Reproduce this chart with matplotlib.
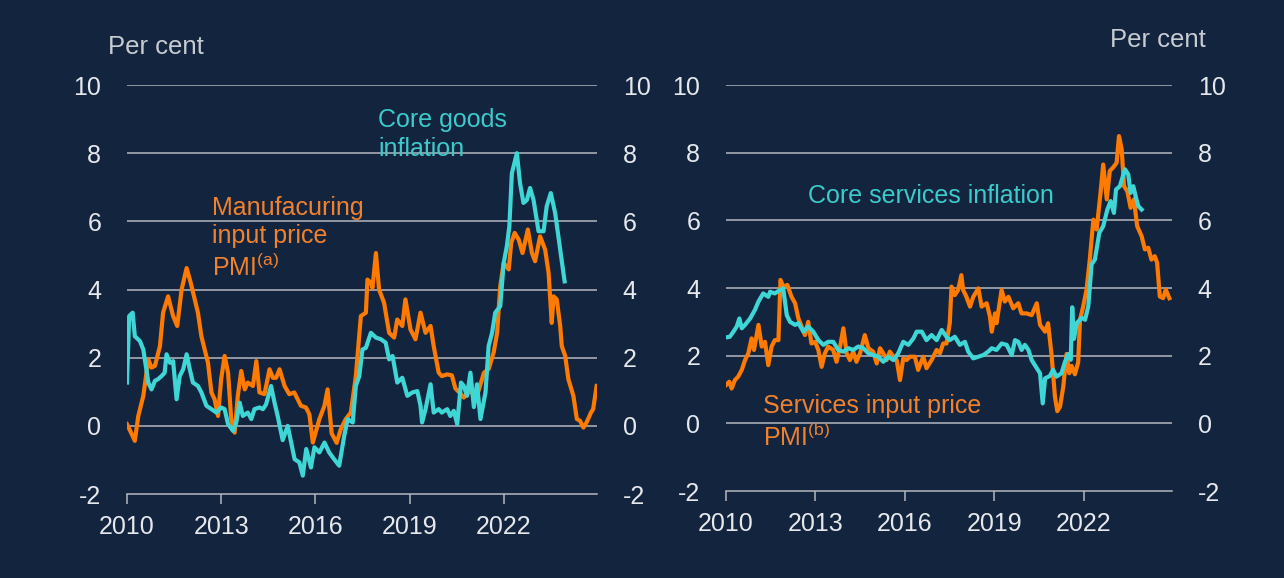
import matplotlib
matplotlib.use("Agg")
import matplotlib.pyplot as plt
import numpy as np

plt.rcParams['font.family'] = ['Liberation Sans', 'DejaVu Sans']
plt.rcParams['mathtext.fontset'] = 'custom'
plt.rcParams['mathtext.rm'] = 'Liberation Sans'
plt.rcParams['axes.unicode_minus'] = False

# ---- data (decimal year, per cent) --------------------------------------------
goods_t = [2010.0, 2010.07, 2010.18, 2010.25, 2010.41, 2010.52, 2010.68, 2010.78, 2010.89, 2010.99,
           2011.1, 2011.2, 2011.26, 2011.37, 2011.47, 2011.58, 2011.68, 2011.79, 2011.9, 2012.0,
           2012.1, 2012.26, 2012.37, 2012.53, 2012.69, 2012.85, 2013.0, 2013.11, 2013.22, 2013.38,
           2013.48, 2013.59, 2013.69, 2013.85, 2013.96, 2014.06, 2014.22, 2014.33, 2014.43, 2014.59,
           2014.7, 2014.8, 2014.96, 2015.12, 2015.23, 2015.34, 2015.49, 2015.6, 2015.71, 2015.86,
           2015.97, 2016.13, 2016.29, 2016.44, 2016.6, 2016.76, 2016.92, 2017.03, 2017.19, 2017.29,
           2017.4, 2017.5, 2017.61, 2017.77, 2017.93, 2018.09, 2018.24, 2018.35, 2018.46, 2018.61,
           2018.77, 2018.93, 2019.09, 2019.25, 2019.35, 2019.4, 2019.51, 2019.67, 2019.77, 2019.93,
           2020.03, 2020.2, 2020.3, 2020.41, 2020.52, 2020.64, 2020.73, 2020.83, 2020.94, 2021.05,
           2021.15, 2021.26, 2021.42, 2021.52, 2021.63, 2021.73, 2021.89, 2022.0, 2022.1, 2022.18,
           2022.26, 2022.42, 2022.52, 2022.63, 2022.74, 2022.84, 2022.95, 2023.11, 2023.27, 2023.37,
           2023.5, 2023.64, 2023.8, 2023.94]
goods_v = [1.27, 3.22, 3.32, 2.63, 2.49, 2.24, 1.27, 1.07, 1.32, 1.37,
           1.46, 1.56, 2.1, 1.85, 1.9, 0.78, 1.46, 1.66, 2.1, 1.66,
           1.27, 1.17, 0.98, 0.59, 0.49, 0.39, 0.54, 0.49, 0.05, -0.15,
           0.1, 0.68, 0.29, 0.39, 0.2, 0.49, 0.54, 0.49, 0.63, 1.17,
           0.68, 0.29, -0.42, 0.0, -0.49, -0.98, -1.07, -1.46, -0.68, -1.22,
           -0.63, -0.78, -0.49, -0.78, -0.98, -1.17, -0.29, 0.2, 0.1, 1.17,
           1.46, 2.24, 2.29, 2.73, 2.59, 2.54, 2.44, 1.95, 2.05, 1.27,
           1.41, 0.88, 0.98, 1.02, 0.59, 0.1, 0.49, 1.22, 0.39, 0.49,
           0.39, 0.49, 0.29, 0.44, 0.05, 1.27, 1.17, 0.88, 1.56, 0.55,
           1.22, 0.2, 0.98, 2.34, 2.73, 3.32, 3.51, 4.78, 5.27, 5.85,
           7.41, 8.0, 7.12, 6.54, 6.63, 6.98, 6.63, 5.71, 5.71, 6.44,
           6.83, 6.24, 5.17, 4.24]

manuf_t = [2010.0, 2010.15, 2010.25, 2010.36, 2010.52, 2010.68, 2010.78, 2010.89, 2011.05, 2011.15,
           2011.31, 2011.47, 2011.6, 2011.74, 2011.9, 2012.03, 2012.26, 2012.37, 2012.58, 2012.69,
           2012.79, 2012.9, 2013.0, 2013.11, 2013.22, 2013.32, 2013.43, 2013.53, 2013.64, 2013.75,
           2013.85, 2014.01, 2014.12, 2014.22, 2014.38, 2014.54, 2014.65, 2014.75, 2014.86, 2015.02,
           2015.17, 2015.33, 2015.54, 2015.7, 2015.81, 2015.92, 2016.13, 2016.29, 2016.39, 2016.52,
           2016.68, 2016.81, 2016.97, 2017.13, 2017.29, 2017.45, 2017.61, 2017.66, 2017.77, 2017.82,
           2017.93, 2018.03, 2018.19, 2018.35, 2018.51, 2018.61, 2018.77, 2018.87, 2019.03, 2019.19,
           2019.35, 2019.51, 2019.67, 2019.77, 2019.93, 2020.03, 2020.2, 2020.35, 2020.46, 2020.62,
           2020.73, 2020.89, 2021.05, 2021.2, 2021.37, 2021.52, 2021.68, 2021.79, 2021.89, 2022.0,
           2022.16, 2022.24, 2022.35, 2022.48, 2022.6, 2022.77, 2022.9, 2023.0, 2023.16, 2023.32,
           2023.43, 2023.53, 2023.59, 2023.69, 2023.8, 2023.85, 2023.96, 2024.06, 2024.22, 2024.33,
           2024.43, 2024.54, 2024.64, 2024.78, 2024.85, 2024.96]
manuf_v = [0.05, -0.24, -0.44, 0.29, 0.88, 1.95, 1.71, 1.76, 2.34, 3.32,
           3.8, 3.22, 2.93, 4.0, 4.63, 4.2, 3.32, 2.63, 1.85, 0.98,
           0.78, 0.29, 1.37, 2.05, 1.56, 0.2, -0.2, 0.88, 1.61, 1.07,
           1.27, 1.17, 1.9, 0.98, 0.93, 1.66, 1.41, 1.41, 1.66, 1.17,
           0.93, 0.98, 0.59, 0.54, 0.34, -0.49, 0.2, 0.59, 1.07, -0.22,
           -0.5, -0.1, 0.2, 0.39, 1.46, 3.22, 3.32, 4.29, 4.2, 4.05,
           5.07, 4.0, 3.61, 2.73, 2.59, 3.12, 2.93, 3.71, 2.83, 2.54,
           3.32, 2.73, 2.93, 2.34, 1.56, 1.46, 1.51, 1.48, 1.1, 0.95,
           0.83, 1.0, 0.95, 1.03, 1.56, 1.66, 2.15, 2.73, 4.1, 4.78,
           4.59, 5.37, 5.66, 5.46, 5.07, 5.76, 5.07, 4.83, 5.56, 5.17,
           4.49, 3.02, 3.8, 3.71, 2.93, 2.34, 2.05, 1.37, 0.88, 0.2,
           0.15, -0.05, 0.1, 0.39, 0.49, 1.17]

serv_t = [2010.0, 2010.13, 2010.25, 2010.36, 2010.45, 2010.53, 2010.64, 2010.81, 2010.97, 2011.09,
          2011.25, 2011.42, 2011.48, 2011.64, 2011.81, 2011.92, 2012.04, 2012.15, 2012.32, 2012.43,
          2012.6, 2012.76, 2012.93, 2013.1, 2013.27, 2013.43, 2013.6, 2013.77, 2013.94, 2014.11,
          2014.27, 2014.44, 2014.61, 2014.78, 2014.94, 2015.11, 2015.28, 2015.45, 2015.62, 2015.78,
          2015.95, 2016.12, 2016.29, 2016.4, 2016.57, 2016.73, 2016.9, 2017.07, 2017.24, 2017.4,
          2017.51, 2017.68, 2017.85, 2018.02, 2018.13, 2018.3, 2018.47, 2018.64, 2018.8, 2018.92,
          2019.08, 2019.25, 2019.42, 2019.59, 2019.7, 2019.81, 2019.92, 2020.03, 2020.15, 2020.26,
          2020.43, 2020.54, 2020.63, 2020.71, 2020.87, 2020.98, 2021.09, 2021.26, 2021.37, 2021.49,
          2021.57, 2021.62, 2021.68, 2021.77, 2021.94, 2022.05, 2022.16, 2022.27, 2022.38, 2022.53,
          2022.66, 2022.8, 2022.91, 2023.02, 2023.09, 2023.22, 2023.39, 2023.5, 2023.58, 2023.67,
          2023.76, 2023.84, 2023.95]
serv_v = [2.54, 2.56, 2.71, 2.86, 3.1, 2.81, 2.91, 3.1, 3.35, 3.6,
          3.84, 3.74, 3.89, 3.84, 3.94, 3.99, 3.2, 3.0, 2.91, 2.96,
          2.71, 2.86, 2.71, 2.46, 2.32, 2.41, 2.41, 2.17, 2.12, 2.22,
          2.17, 2.27, 2.22, 2.07, 2.02, 1.97, 1.82, 1.97, 1.87, 2.07,
          2.41, 2.32, 2.51, 2.71, 2.71, 2.46, 2.61, 2.46, 2.76, 2.56,
          2.46, 2.56, 2.32, 2.41, 2.12, 1.92, 1.97, 2.02, 2.12, 2.22,
          2.17, 2.36, 2.32, 2.02, 2.46, 2.41, 2.17, 2.32, 2.17, 1.87,
          1.63, 1.48, 0.59, 1.33, 1.4, 1.58, 1.38, 1.48, 1.8, 2.05,
          1.88, 3.43, 2.5, 2.96, 3.12, 3.06, 3.46, 4.7, 4.84, 5.63,
          5.83, 6.32, 6.57, 6.22, 6.91, 7.01, 7.51, 7.36, 6.81, 7.01,
          6.67, 6.42, 6.32]

spmi_t = [2010.0, 2010.11, 2010.19, 2010.3, 2010.41, 2010.53, 2010.64, 2010.75, 2010.86, 2010.94,
          2011.09, 2011.2, 2011.31, 2011.42, 2011.53, 2011.64, 2011.76, 2011.83, 2011.92, 2012.06,
          2012.2, 2012.32, 2012.43, 2012.54, 2012.65, 2012.76, 2012.87, 2012.99, 2013.1, 2013.21,
          2013.32, 2013.43, 2013.6, 2013.71, 2013.83, 2013.94, 2014.05, 2014.16, 2014.27, 2014.38,
          2014.5, 2014.66, 2014.78, 2014.94, 2015.06, 2015.17, 2015.28, 2015.39, 2015.5, 2015.62,
          2015.73, 2015.84, 2015.95, 2016.06, 2016.17, 2016.34, 2016.45, 2016.62, 2016.73, 2016.9,
          2017.07, 2017.18, 2017.29, 2017.4, 2017.51, 2017.57, 2017.68, 2017.79, 2017.9, 2017.96,
          2018.07, 2018.19, 2018.3, 2018.47, 2018.58, 2018.75, 2018.86, 2018.92, 2019.03, 2019.08,
          2019.25, 2019.36, 2019.48, 2019.64, 2019.81, 2019.92, 2020.09, 2020.26, 2020.43, 2020.54,
          2020.71, 2020.81, 2020.93, 2021.04, 2021.12, 2021.21, 2021.32, 2021.43, 2021.52, 2021.6,
          2021.71, 2021.82, 2021.88, 2021.99, 2022.1, 2022.21, 2022.33, 2022.44, 2022.57, 2022.66,
          2022.78, 2022.88, 2022.99, 2023.11, 2023.19, 2023.28, 2023.36, 2023.47, 2023.58, 2023.69,
          2023.8, 2023.95, 2024.06, 2024.17, 2024.28, 2024.39, 2024.47, 2024.56, 2024.67, 2024.76,
          2024.88]
spmi_v = [1.13, 1.23, 1.03, 1.28, 1.38, 1.58, 1.87, 2.07, 2.51, 2.17,
          2.91, 2.27, 2.41, 1.72, 2.27, 2.46, 2.46, 4.24, 4.04, 4.09,
          3.74, 3.55, 3.1, 2.86, 2.61, 3.0, 2.36, 2.41, 2.17, 1.67,
          2.07, 2.27, 2.17, 1.82, 2.27, 2.81, 2.07, 1.87, 2.12, 1.82,
          2.07, 2.61, 2.22, 2.12, 1.77, 2.22, 2.07, 1.87, 2.12, 1.97,
          1.87, 1.28, 1.92, 1.87, 1.97, 1.97, 1.58, 1.97, 1.63, 1.87,
          2.17, 2.07, 2.36, 2.36, 2.96, 4.04, 3.79, 3.94, 4.38, 3.94,
          3.74, 3.45, 3.74, 3.99, 3.45, 3.55, 3.15, 2.71, 3.25, 2.96,
          3.94, 3.6, 3.74, 3.4, 3.55, 3.25, 3.25, 3.2, 3.55, 2.91,
          2.71, 2.96, 2.0, 0.79, 0.36, 0.49, 1.08, 2.05, 1.48, 1.7,
          1.45, 1.8, 3.06, 3.46, 3.95, 4.84, 6.02, 5.73, 6.81, 7.65,
          6.62, 7.46, 7.56, 7.7, 8.49, 8.1, 7.01, 6.86, 6.37, 6.62,
          5.83, 5.53, 5.14, 5.19, 4.84, 4.94, 4.74, 3.75, 3.7, 3.95,
          3.7]

year_ticks = [2010, 2013, 2016, 2019, 2022]
y_ticks = [-2, 0, 2, 4, 6, 8, 10]

# ---- style ---------------------------------------------------------------------
BG = '#13243f'
ORANGE = '#ff7a00'
TURQ = '#3fd6d6'
ORANGE_TXT = '#f0822e'
TURQ_TXT = '#3ccaca'
GRID = '#b4b8c0'
TXT = '#e6e8ec'

fig = plt.figure(figsize=(12.84, 5.78), dpi=100, facecolor=BG)
ax1 = fig.add_axes([0.0989, 0.1453, 0.3660, 0.7076])
ax2 = fig.add_axes([0.5654, 0.1505, 0.3474, 0.7024])


def style_axis(ax):
    ax.set_facecolor(BG)
    ax.set_xlim(2010, 2024.97)
    ax.set_ylim(-2, 10)
    ax.set_yticks(y_ticks)
    ax.set_xticks(year_ticks)
    for y in y_ticks[1:]:
        ax.axhline(y, color=GRID, lw=1.1, zorder=1)
    for s in ['top', 'left', 'right']:
        ax.spines[s].set_visible(False)
    ax.spines['bottom'].set_color(GRID)
    ax.spines['bottom'].set_linewidth(1.1)
    ax.tick_params(axis='x', colors=GRID, labelcolor=TXT, labelsize=18,
                   length=7, width=1.1, direction='out', pad=8)
    ax.tick_params(axis='y', left=False, right=False, labelleft=True, labelright=True,
                   labelcolor=TXT, labelsize=18, pad=15)


style_axis(ax1)
style_axis(ax2)

ax1.plot(manuf_t, manuf_v, color=ORANGE, lw=3, zorder=3, solid_joinstyle='round')
ax1.plot(goods_t, goods_v, color=TURQ, lw=3, zorder=4, solid_joinstyle='round')
ax2.plot(spmi_t, spmi_v, color=ORANGE, lw=3, zorder=3, solid_joinstyle='round')
ax2.plot(serv_t, serv_v, color=TURQ, lw=3, zorder=4, solid_joinstyle='round')

# ---- annotations ---------------------------------------------------------------
ax1.text(2018.0, 8.55, 'Core goods\ninflation', color=TURQ_TXT, fontsize=18,
         ha='left', va='center', linespacing=1.25, zorder=5)
ax1.text(2012.7, 5.5, 'Manufacuring\ninput price\nPMI$^{\\mathrm{(a)}}$', color=ORANGE_TXT,
         fontsize=18, ha='left', va='center', linespacing=1.25, zorder=5)
ax2.text(2012.75, 6.72, 'Core services inflation', color=TURQ_TXT, fontsize=18,
         ha='left', va='center', zorder=5)
ax2.text(2011.24, 0.03, 'Services input price\nPMI$^{\\mathrm{(b)}}$', color=ORANGE_TXT,
         fontsize=18, ha='left', va='center', linespacing=1.25, zorder=5)

fig.text(108 / 1284, 1 - 47 / 578, 'Per cent', color='#c8ccd2', fontsize=18.5,
         ha='left', va='center')
fig.text(1110 / 1284, 1 - 40 / 578, 'Per cent', color='#c8ccd2', fontsize=18.5,
         ha='left', va='center')

fig.savefig('out.png', dpi=100, facecolor=BG)
